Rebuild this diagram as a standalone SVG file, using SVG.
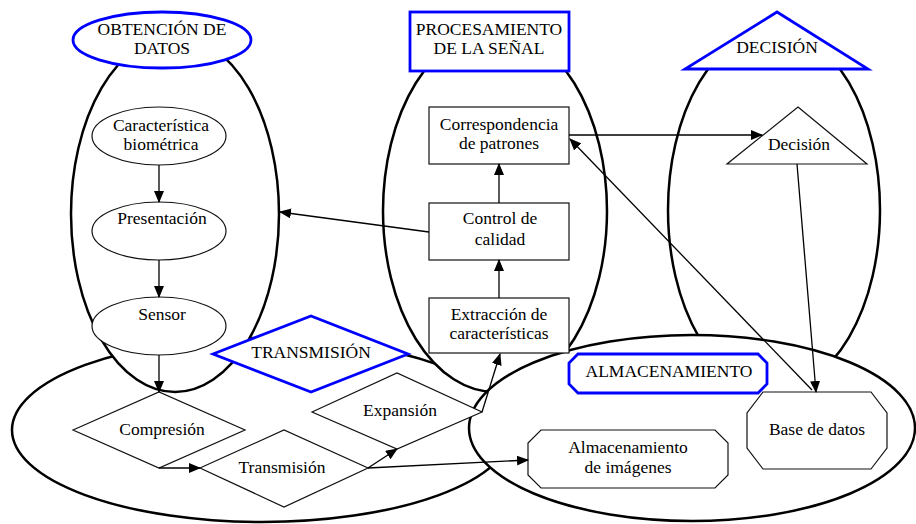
<svg xmlns="http://www.w3.org/2000/svg" width="916" height="524" viewBox="0 0 916 524">
<defs>
<marker id="ah" markerUnits="userSpaceOnUse" markerWidth="12" markerHeight="10" refX="11" refY="5" orient="auto">
<path d="M0,0 L12,5 L0,10 Z" fill="#000"/>
</marker>
</defs>
<style>
.big{fill:#fff;stroke:#000;stroke-width:2.5}
.hdr{fill:#fff;stroke:#0000ff;stroke-width:2.8}
.node{fill:#fff;stroke:#111;stroke-width:1.2}
.t{font-family:"Liberation Serif","Times New Roman",serif;font-size:17.5px;fill:#000;text-anchor:middle}
.c{fill:none;stroke:#000;stroke-width:1.3;marker-end:url(#ah)}
</style>
<g id="regions">
<ellipse id="region-transmision" class="big" cx="262" cy="430" rx="250" ry="92"/>
<ellipse id="region-obtencion" class="big" cx="175" cy="214" rx="104" ry="178"/>
<ellipse id="region-procesamiento" class="big" cx="495" cy="211" rx="112" ry="181"/>
<ellipse id="region-decision" class="big" cx="774" cy="210" rx="106" ry="180"/>
<ellipse id="region-almacenamiento" class="big" cx="692" cy="428" rx="223" ry="93"/>
</g>
<g id="hdr-obtencion">
<ellipse class="hdr" cx="162" cy="40" rx="89" ry="28"/>
<text class="t" x="162" y="35">OBTENCIÓN DE</text>
<text class="t" x="162" y="54">DATOS</text>
</g>
<g id="hdr-procesamiento">
<rect class="hdr" x="410" y="12" width="159" height="59"/>
<text class="t" x="489" y="35">PROCESAMIENTO</text>
<text class="t" x="489" y="54">DE LA SEÑAL</text>
</g>
<g id="hdr-decision">
<polygon class="hdr" points="777,12 868,69 685,69"/>
<text class="t" x="777" y="53">DECISIÓN</text>
</g>
<g id="hdr-transmision">
<polygon class="hdr" points="213,354 311,316 408,354 311,392"/>
<text class="t" x="311" y="358">TRANSMISIÓN</text>
</g>
<g id="hdr-almacenamiento">
<polygon class="hdr" points="578,354 758,354 767,363 767,384 758,393 578,393 569,384 569,363"/>
<text class="t" x="669" y="377">ALMACENAMIENTO</text>
</g>
<g id="n-caracteristica">
<ellipse class="node" cx="159" cy="136" rx="67" ry="29"/>
<text class="t" x="161" y="131">Característica</text>
<text class="t" x="161" y="150">biométrica</text>
</g>
<g id="n-presentacion">
<ellipse class="node" cx="159" cy="231" rx="67" ry="29"/>
<text class="t" x="162" y="224">Presentación</text>
</g>
<g id="n-sensor">
<ellipse class="node" cx="159" cy="326" rx="67" ry="29"/>
<text class="t" x="162" y="320">Sensor</text>
</g>
<g id="n-compresion">
<polygon class="node" points="73,430 159,392 245,430 159,468"/>
<text class="t" x="162" y="435">Compresión</text>
</g>
<g id="n-transmision">
<polygon class="node" points="200,468 284,430 368,468 284,507"/>
<text class="t" x="282" y="473">Transmisión</text>
</g>
<g id="n-expansion">
<polygon class="node" points="312,412 397,373 482,412 397,449"/>
<text class="t" x="400" y="416">Expansión</text>
</g>
<g id="n-correspondencia">
<rect class="node" x="429" y="107" width="140" height="57"/>
<text class="t" x="499" y="130">Correspondencia</text>
<text class="t" x="499" y="149">de patrones</text>
</g>
<g id="n-control">
<rect class="node" x="429" y="203" width="140" height="57"/>
<text class="t" x="500" y="224">Control de</text>
<text class="t" x="500" y="245">calidad</text>
</g>
<g id="n-extraccion">
<rect class="node" x="429" y="298" width="140" height="55"/>
<text class="t" x="499" y="320">Extracción de</text>
<text class="t" x="499" y="339">características</text>
</g>
<g id="n-decision">
<polygon class="node" points="798,107 867,164 727,164"/>
<text class="t" x="799" y="150">Decisión</text>
</g>
<g id="n-base">
<polygon class="node" points="763,392 871,392 887,413 887,448 871,469 763,469 747,448 747,413"/>
<text class="t" x="817" y="435">Base de datos</text>
</g>
<g id="n-almimagenes">
<polygon class="node" points="541,430 715,430 728,443 728,475 715,488 541,488 528,475 528,443"/>
<text class="t" x="628" y="453">Almacenamiento</text>
<text class="t" x="628" y="473">de imágenes</text>
</g>
<g id="connectors">
<line class="c" x1="159" y1="165" x2="159" y2="202"/>
<line class="c" x1="159" y1="260" x2="159" y2="297"/>
<line class="c" x1="159" y1="355" x2="159" y2="392"/>
<line class="c" x1="159" y1="468" x2="200" y2="468"/>
<line class="c" x1="368" y1="468" x2="397" y2="449"/>
<line class="c" x1="368" y1="468" x2="528" y2="460"/>
<line class="c" x1="482" y1="412" x2="500" y2="354"/>
<line class="c" x1="499" y1="298" x2="499" y2="260"/>
<line class="c" x1="499" y1="203" x2="499" y2="164"/>
<line class="c" x1="429" y1="232" x2="280" y2="212"/>
<line class="c" x1="569" y1="135" x2="762" y2="135"/>
<line class="c" x1="797" y1="164" x2="816" y2="392"/>
<line class="c" x1="812" y1="390" x2="570" y2="139"/>
</g>
</svg>
